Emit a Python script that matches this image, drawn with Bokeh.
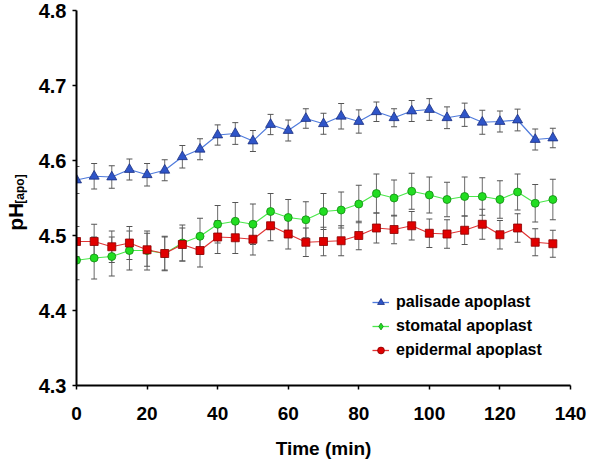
import math
from bokeh.plotting import figure
from bokeh.layouts import row
from bokeh.models import (ColumnDataSource, Range1d, Whisker, TeeHead, Legend,
                          LegendItem, FixedTicker, NumeralTickFormatter)
from bokeh.core.properties import value
from bokeh.embed import file_html
from bokeh.resources import INLINE

# ---- data ----
time_min = [0, 5, 10, 15, 20, 25, 30, 35, 40, 45, 50, 55, 60, 65,
            70, 75, 80, 85, 90, 95, 100, 105, 110, 115, 120, 125, 130, 135]

palisade = [4.574, 4.579, 4.578, 4.588, 4.581, 4.587, 4.605, 4.615, 4.634, 4.636,
            4.626, 4.648, 4.640, 4.656, 4.649, 4.659, 4.652, 4.665, 4.657, 4.666,
            4.668, 4.657, 4.661, 4.651, 4.652, 4.654, 4.628, 4.630]
palisade_err = [0.018, 0.017, 0.015, 0.014, 0.015, 0.014, 0.015, 0.014, 0.0135, 0.0145,
                0.014, 0.0135, 0.014, 0.013, 0.014, 0.017, 0.0155, 0.013, 0.012, 0.014,
                0.0145, 0.0145, 0.0155, 0.016, 0.014, 0.0145, 0.014, 0.013]

stomatal = [4.467, 4.470, 4.472, 4.480, 4.480, 4.476, 4.490, 4.499, 4.515, 4.519,
            4.515, 4.532, 4.524, 4.521, 4.532, 4.534, 4.542, 4.556, 4.550, 4.559,
            4.554, 4.548, 4.552, 4.552, 4.548, 4.558, 4.543, 4.548]
stomatal_err = [0.026, 0.028, 0.026, 0.026, 0.026, 0.023, 0.024, 0.024, 0.025, 0.025,
                0.027, 0.024, 0.024, 0.024, 0.024, 0.024, 0.025, 0.026, 0.024, 0.024,
                0.024, 0.023, 0.026, 0.025, 0.025, 0.024, 0.025, 0.027]

epidermal = [4.492, 4.492, 4.485, 4.490, 4.481, 4.476, 4.488, 4.480, 4.498, 4.497,
             4.495, 4.513, 4.502, 4.491, 4.492, 4.493, 4.500, 4.510, 4.508, 4.513,
             4.503, 4.502, 4.507, 4.515, 4.501, 4.510, 4.491, 4.489]
epidermal_err = [0.020, 0.023, 0.021, 0.022, 0.022, 0.022, 0.022, 0.022, 0.022, 0.021,
                 0.021, 0.020, 0.020, 0.019, 0.019, 0.020, 0.019, 0.020, 0.019, 0.019,
                 0.019, 0.019, 0.019, 0.020, 0.019, 0.019, 0.018, 0.018]

series_names = ["palisade apoplast", "stomatal apoplast", "epidermal apoplast"]
x_ticks = [0, 20, 40, 60, 80, 100, 120, 140]
y_ticks = [4.3, 4.4, 4.5, 4.6, 4.7, 4.8]
y_title = "pH"
y_title_sub = "[apo]"

FONT = "Liberation Sans"
NAN = float("nan")
TOP, BOTTOM = 10, 78

# ---- narrow strip holding the rotated y-axis title ----
lf = figure(width=30, height=463, output_backend="svg", toolbar_location=None,
            x_range=Range1d(0, 30), y_range=Range1d(4.3, 4.8),
            x_axis_location=None, y_axis_location=None,
            min_border_left=0, min_border_right=0,
            min_border_top=TOP, min_border_bottom=BOTTOM)
lf.outline_line_color = None
lf.grid.visible = False
lf.text(x=[15], y=[4.525], text=[y_title], angle=math.pi / 2,
        text_align="center", text_baseline="middle",
        text_font=value(FONT), text_font_style="bold", text_font_size="21px",
        text_color="black")
lf.text(x=[19.5], y=[4.562], text=[y_title_sub], angle=math.pi / 2,
        text_align="center", text_baseline="middle",
        text_font=value(FONT), text_font_style="bold", text_font_size="12px",
        text_color="black")

# ---- main plot ----
p = figure(width=560, height=463, output_backend="svg", toolbar_location=None,
           x_range=Range1d(0, 140), y_range=Range1d(4.3, 4.8),
           min_border_left=46, min_border_right=20,
           min_border_top=TOP, min_border_bottom=BOTTOM)
p.outline_line_color = None
p.grid.visible = False
p.background_fill_color = "white"

for ax in (p.xaxis[0], p.yaxis[0]):
    ax.axis_line_color = "black"
    ax.axis_line_width = 2
    ax.major_tick_line_color = "black"
    ax.major_tick_line_width = 1.5
    ax.major_tick_out = 4
    ax.major_tick_in = 0
    ax.minor_tick_line_color = None
    ax.major_label_text_font = FONT
    ax.major_label_text_font_style = "bold"
    ax.major_label_text_color = "black"

p.xaxis.ticker = FixedTicker(ticks=x_ticks)
p.yaxis.ticker = FixedTicker(ticks=y_ticks)
p.yaxis.formatter = NumeralTickFormatter(format="0.0")
p.xaxis.major_label_text_font_size = "19px"
p.yaxis.major_label_text_font_size = "20px"
p.xaxis.major_label_standoff = 17
p.yaxis.major_label_standoff = 6

p.xaxis.axis_label = "Time (min)"
p.xaxis.axis_label_text_font = FONT
p.xaxis.axis_label_text_font_style = "bold"
p.xaxis.axis_label_text_font_size = "19px"
p.xaxis.axis_label_text_color = "black"
p.xaxis.axis_label_standoff = 15

styles = [
    dict(y=palisade, e=palisade_err, line="#4f7bdc", fill="#2f55c8", edge="#1a2f80",
         marker="triangle", size=10, legend_marker="triangle", legend_size=10),
    dict(y=stomatal, e=stomatal_err, line="#4be84b", fill="#22dd22", edge="#138a13",
         marker="circle", size=8, legend_marker="diamond", legend_size=11),
    dict(y=epidermal, e=epidermal_err, line="#e03535", fill="#e00000", edge="#8a0000",
         marker="square", size=8, legend_marker="circle", legend_size=9),
]

# error bars first (underneath)
for s in styles:
    lo = [v - e for v, e in zip(s["y"], s["e"])]
    up = [v + e for v, e in zip(s["y"], s["e"])]
    src = ColumnDataSource(dict(t=time_min, lo=lo, up=up))
    w = Whisker(base="t", lower="lo", upper="up", source=src,
                line_color="#6a6a6a", line_width=1,
                upper_head=TeeHead(size=6, line_color="#555555", line_width=1),
                lower_head=TeeHead(size=6, line_color="#555555", line_width=1))
    p.add_layout(w)

draw_order = [1, 2, 0]
for i in draw_order:
    s = styles[i]
    src = ColumnDataSource(dict(t=time_min, v=s["y"]))
    p.line("t", "v", source=src, line_color=s["line"], line_width=1.2)
    p.scatter("t", "v", source=src, marker=s["marker"], size=s["size"],
              fill_color=s["fill"], line_color=s["edge"], line_width=0.8)

# legend with its own glyphs (as in the original figure)
items = []
for name, s in zip(series_names, styles):
    ln = p.line(x=[NAN, NAN], y=[NAN, NAN], line_color=s["line"], line_width=1.3)
    sc = p.scatter(x=[NAN], y=[NAN], marker=s["legend_marker"], size=s["legend_size"],
                   fill_color=s["fill"], line_color=s["edge"], line_width=0.8)
    items.append(LegendItem(label=name, renderers=[ln, sc]))

legend = Legend(items=items, location=(296, 25), border_line_color=None,
                background_fill_alpha=0, padding=0, margin=0, spacing=4,
                glyph_height=20, glyph_width=17, label_height=20, label_standoff=7,
                label_text_font=FONT, label_text_font_style="bold",
                label_text_font_size="16px", label_text_color="black")
p.add_layout(legend)

layout = row(lf, p)
open("out.html", "w").write(file_html(layout, INLINE))
